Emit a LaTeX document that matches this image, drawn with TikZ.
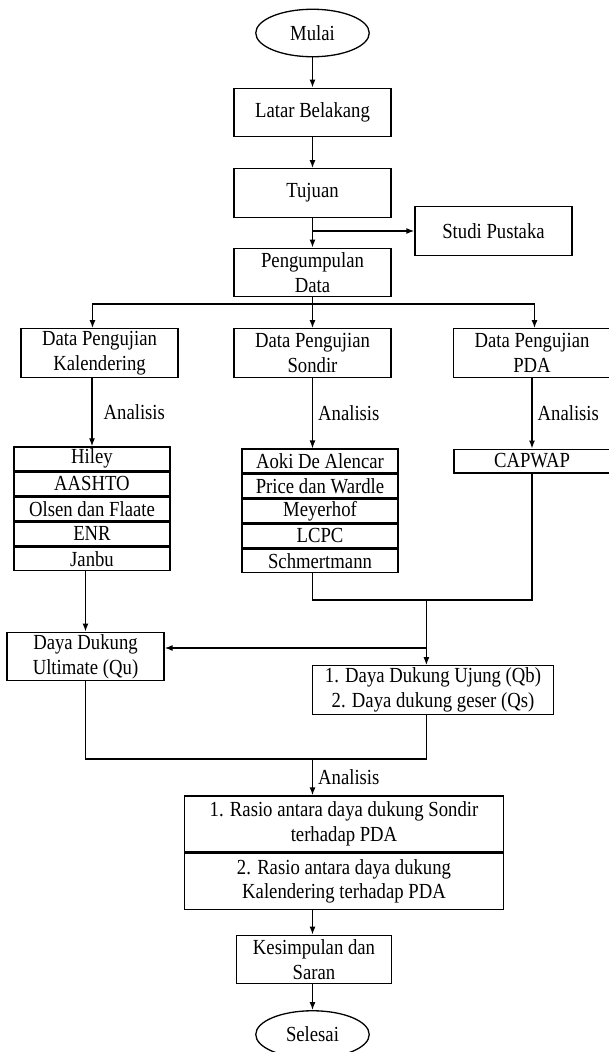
\documentclass[tikz,border=0pt]{standalone}
\usepackage{fontspec}
\setmainfont[FakeStretch=0.87]{Liberation Serif}
\usetikzlibrary{shapes.geometric,positioning,arrows.meta,calc}

\begin{document}
\begin{tikzpicture}[x=1pt,y=-1pt,line width=1.3pt,
  font=\fontsize{21.5}{24.7}\selectfont,
  kotak/.style={draw,rectangle,align=center,inner sep=0pt,minimum width=157pt,minimum height=48.5pt},
  baris/.style={draw,rectangle,inner sep=0pt,minimum width=156pt,minimum height=23.7pt},
  oval/.style={draw,ellipse,inner sep=0pt,minimum width=113.5pt,minimum height=47.5pt},
  panah/.style={-{Latex[length=8pt,width=6pt]}},
  ket/.style={right,inner sep=5pt}]
\useasboundingbox (0,0) rectangle (609,1052);

\node[oval] (mulai) at (312.5,33) {Mulai};
\node[kotak] (latar) at (312.5,112.5) {Latar Belakang};
\node[kotak] (tujuan) at (312.5,193) {Tujuan};
\node[kotak] (studi) at (493.5,231) {Studi Pustaka};
\node[kotak] (kumpul) at (312.5,272.5) {Pengumpulan\\Data};
\node[kotak] (kal) at (99.5,353) {Data Pengujian\\Kalendering};
\node[kotak] (son) at (312.5,353) {Data Pengujian\\Sondir};
\node[kotak] (pda) at (532,353) {Data Pengujian\\PDA};

% metode kalendering
\node[baris] (hiley) at (92,458.8) {Hiley};
\node[baris,below=0pt of hiley] (aashto) {AASHTO};
\node[baris,below=0pt of aashto] (olsen) {Olsen dan Flaate};
\node[baris,below=0pt of olsen] (enr) {ENR};
\node[baris,below=0pt of enr] (janbu) {Janbu};

% metode sondir
\node[baris] (aoki) at (320,460.9) {Aoki De Alencar};
\node[baris,below=0pt of aoki] (price) {Price dan Wardle};
\node[baris,below=0pt of price] (meyer) {Meyerhof};
\node[baris,below=0pt of meyer] (lcpc) {LCPC};
\node[baris,below=0pt of lcpc] (schmert) {Schmertmann};

\node[baris] (capwap) at (532,461) {CAPWAP};

\node[kotak] (qu) at (85.5,656.5) {Daya Dukung\\Ultimate (Qu)};
\node[kotak,minimum width=241pt] (qb) at (433,690) {1. Daya Dukung Ujung (Qb)\\2. Daya dukung geser (Qs)};
\node[kotak,minimum width=319.5pt,minimum height=56pt] (rasio1) at (344,824) {1. Rasio antara daya dukung Sondir\\terhadap PDA};
\node[kotak,minimum width=319.5pt,minimum height=56pt,below=0pt of rasio1] (rasio2) {2. Rasio antara daya dukung\\Kalendering terhadap PDA};
\node[kotak,minimum width=155.5pt] (simpul) at (314,959.5) {Kesimpulan dan\\Saran};
\node[oval] (selesai) at (312.5,1034.5) {Selesai};

\draw[panah] (mulai) -- (latar);
\draw[panah] (latar) -- (tujuan);
\draw[panah] (tujuan) -- (kumpul);
\draw[panah] (tujuan.south |- studi) -- (studi);

\coordinate (cabang) at (312.5,304);
\draw (kumpul) -- (cabang);
\draw[panah] (cabang) -| ($(kal.north)+(-7,0)$);
\draw[panah] (cabang) -- (son);
\draw[panah] (cabang) -| ($(pda.north)+(2.5,0)$);

\draw[panah] (kal.south -| hiley) -- node[ket,xshift=6pt] {Analisis} (hiley.north);
\draw[panah] (son) -- node[ket] {Analisis} (son.south |- aoki.north);
\draw[panah] (pda) -- node[ket] {Analisis} (capwap);

\draw[panah] (qu.north |- janbu.south) -- (qu.north);
\coordinate (gabung) at (426.4,600);
\draw (son.south |- schmert.south) |- (gabung) -| (capwap.south);
\draw[panah] (gabung) -- (gabung |- qb.north);
\coordinate (cabang2) at (426.4,648);
\draw[panah] (cabang2) -- (cabang2 -| qu.east);

\coordinate (gabung2) at (312.5,759);
\draw (qu.south) -- (qu.south |- gabung2) -- (gabung |- gabung2) -- (gabung |- qb.south);
\draw[panah] (gabung2) -- node[ket] {Analisis} (gabung2 |- rasio1.north);
\draw[panah] (rasio2.south -| mulai) -- (simpul.north -| mulai);
\draw[panah] (simpul.south -| mulai) -- (selesai);
\end{tikzpicture}
\end{document}
